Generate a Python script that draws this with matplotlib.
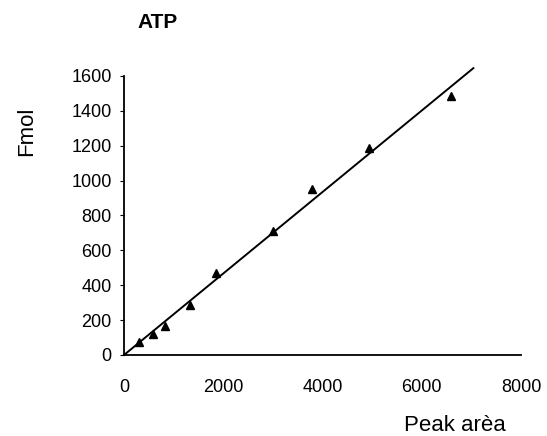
import matplotlib.pyplot as plt

plt.rcParams['font.family'] = ['Liberation Sans', 'DejaVu Sans']

# calibration points
peak_area = [300, 590, 830, 1320, 1860, 3000, 3780, 4940, 6590]
fmol = [76, 120, 166, 287, 468, 711, 950, 1185, 1487]

# regression line ends
line_x = [0, 7040]
line_y = [0, 1645]

x_ticks = [0, 2000, 4000, 6000, 8000]
y_ticks = [0, 200, 400, 600, 800, 1000, 1200, 1400, 1600]

fig = plt.figure(figsize=(5.47, 4.36), dpi=100)
ax = fig.add_axes([0.2267, 0.1858, 0.7258, 0.6399])

ax.plot(line_x, line_y, color='black', lw=1.4, clip_on=False, zorder=2)
ax.plot(peak_area, fmol, linestyle='none', marker='^', color='black',
        markersize=5.5, clip_on=False, zorder=3)

ax.set_xlim(0, 8000)
ax.set_ylim(0, 1600)
ax.set_xticks(x_ticks)
ax.set_yticks(y_ticks)
ax.spines['top'].set_visible(False)
ax.spines['right'].set_visible(False)
ax.spines['left'].set_linewidth(1.3)
ax.spines['bottom'].set_linewidth(1.3)
ax.tick_params(axis='y', length=3, width=0.8, pad=6, labelsize=13)
ax.tick_params(axis='x', length=0, pad=17, labelsize=13)

fig.text(137 / 547, 1 - 23 / 436, 'ATP', fontsize=15, fontweight='bold',
         ha='left', va='center')
fig.text(27 / 547, 1 - 131 / 436, 'Fmol', fontsize=16, rotation=90,
         ha='center', va='center')
fig.text(455 / 547, 1 - 425 / 436, 'Peak arèa', fontsize=16,
         ha='center', va='center')

fig.savefig('out.png', dpi=100)
